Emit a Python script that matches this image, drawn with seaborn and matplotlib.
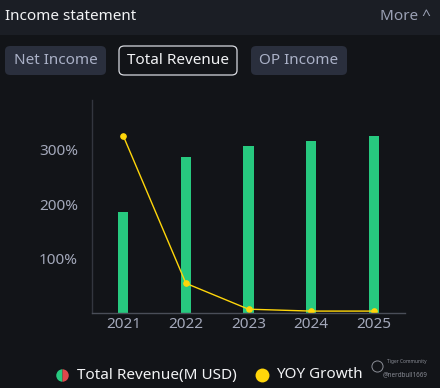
import matplotlib
matplotlib.use("Agg")
import matplotlib.pyplot as plt
import seaborn as sns
import pandas as pd
from matplotlib.patches import FancyBboxPatch, Rectangle
from matplotlib.lines import Line2D

years = ["2021", "2022", "2023", "2024", "2025"]
revenue = [1007, 1557, 1670, 1720, 1770]          # Total Revenue (M USD), estimated
yoy_growth = [325, 54.5, 7, 3.5, 3.5]              # YOY Growth (%)
y_ticks = [100, 200, 300]
y_tick_labels = ["100%", "200%", "300%"]
buttons = ["Net Income", "Total Revenue", "OP Income"]

BG = "#121418"
HEADER = "#1b1e25"
GREEN = "#27c97f"
YELLOW = "#ffd60a"
TICK = "#a3a8ba"

sns.set_theme(style="dark")
plt.rcParams["font.family"] = ["Noto Sans", "DejaVu Sans"]

W, H = 440, 388
fig = plt.figure(figsize=(W / 100, H / 100), dpi=100, facecolor=BG)

def fx(px):
    return px / W

def fy(py):
    return 1 - py / H

# header band
fig.patches.append(Rectangle((0, fy(35)), 1, 35 / H, transform=fig.transFigure,
                             facecolor=HEADER, edgecolor="none", zorder=0))
fig.text(fx(5), fy(17), "Income statement", color="#f2f3f5", fontsize=11,
         va="center", ha="left")
fig.text(fx(431), fy(17), "More ^", color="#9aa0b4", fontsize=11,
         va="center", ha="right")

# buttons
btn_specs = [(5, 106, "#2a2f3d", None, "#aab1c7"),
             (119, 237, BG, "#d8dae0", "#f2f3f5"),
             (251, 347, "#2a2f3d", None, "#aab1c7")]
for label, (x0, x1, fc, ec, tc) in zip(buttons, btn_specs):
    p = FancyBboxPatch((fx(x0), fy(75)), fx(x1 - x0), 29 / H,
                       boxstyle="round,pad=0,rounding_size=0.012",
                       transform=fig.transFigure, facecolor=fc,
                       edgecolor=ec if ec else "none", linewidth=0.9)
    fig.patches.append(p)
    fig.text(fx((x0 + x1) / 2), fy(61), label, color=tc, fontsize=11,
             ha="center", va="center")

# axes
ax = fig.add_axes([fx(92), fy(313), fx(405 - 92), (313 - 100) / H])
ax2 = ax.twinx()

df = pd.DataFrame({"year": years, "revenue": revenue, "growth": yoy_growth})

sns.barplot(data=df, x="year", y="revenue", ax=ax2, color=GREEN,
            width=0.16, saturation=1, edgecolor="none")
sns.pointplot(data=df, x="year", y="growth", ax=ax, color=YELLOW,
              markers="o", markersize=4, linewidth=1.0)

ax.set_zorder(ax2.get_zorder() + 1)
ax.patch.set_visible(False)
ax2.set_facecolor(BG)

ax.set_xlim(-0.5, 4.5)
ax.set_ylim(0, 391)
ax2.set_ylim(0, 2130)
ax2.set_yticks([])
ax2.set_ylabel("")
ax.set_ylabel("")
ax.set_xlabel("")
ax2.set_xlabel("")
ax.set_yticks(y_ticks)
ax.set_yticklabels(y_tick_labels)
ax.tick_params(axis="y", colors=TICK, labelsize=11, length=0, pad=10)
ax.tick_params(axis="x", colors=TICK, labelsize=11, length=0, pad=3)
ax2.tick_params(length=0)
ax.grid(False)
ax2.grid(False)
for a in (ax, ax2):
    for s in a.spines.values():
        s.set_visible(False)
ax.spines["left"].set_visible(True)
ax.spines["bottom"].set_visible(True)
ax.spines["left"].set_color("#33363f")
ax.spines["bottom"].set_color("#4a4e58")
ax.spines["left"].set_linewidth(1)
ax.spines["bottom"].set_linewidth(1)

# legend
fig.add_artist(Line2D([fx(62)], [fy(375)], marker="o", markersize=9,
                      fillstyle="left", markerfacecolor=GREEN,
                      markerfacecoloralt="#e0474c", markeredgewidth=0,
                      transform=fig.transFigure))
fig.text(fx(77), fy(375), "Total Revenue(M USD)", color="#f2f3f5",
         fontsize=11, va="center", ha="left")
fig.add_artist(Line2D([fx(262)], [fy(375)], marker="o", markersize=10,
                      color=YELLOW, markeredgewidth=0,
                      transform=fig.transFigure))
fig.text(fx(276), fy(375), "YOY Growth", color="#f2f3f5",
         fontsize=11, va="center", ha="left")

# watermark
fig.text(fx(387), fy(362), "Tiger Community", color="#8a8d96", fontsize=3.5,
         va="center", ha="left")
fig.text(fx(383), fy(375), "@nerdbull1669", color="#8a8d96", fontsize=4.5,
         va="center", ha="left")
fig.add_artist(Line2D([fx(377)], [fy(366)], marker="o", markersize=8,
                      markerfacecolor="none", markeredgecolor="#8a8d96",
                      markeredgewidth=0.7, transform=fig.transFigure))

fig.savefig("out.png", dpi=100, facecolor=BG)
